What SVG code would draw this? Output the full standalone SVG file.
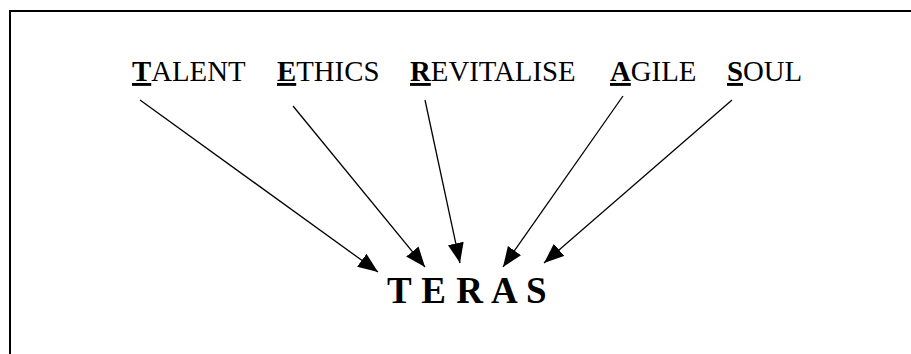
<svg xmlns="http://www.w3.org/2000/svg" width="911" height="354" viewBox="0 0 911 354">
  <style>
    .lbl { font-family: "Liberation Serif", "Times New Roman", serif; font-size: 28.8px; fill: #000; }
    .ini { font-weight: bold; text-decoration: underline; }
    .title { font-family: "Liberation Serif", "Times New Roman", serif; font-size: 37px; font-weight: bold; fill: #000; letter-spacing: 0.5px; }
    .conn { stroke: #000; stroke-width: 1.3; fill: none; marker-end: url(#arrow); }
  </style>
  <defs>
    <marker id="arrow" markerUnits="userSpaceOnUse" markerWidth="21" markerHeight="17" refX="20" refY="8" orient="auto">
      <path d="M0,0 L20,8 L0,16 z" fill="#000"/>
    </marker>
  </defs>
  <rect x="0" y="0" width="911" height="354" fill="#fff"/>
  <rect x="10" y="11" width="960" height="400" fill="none" stroke="#000" stroke-width="2"/>

  <g id="talent"><text class="lbl" x="132" y="81"><tspan class="ini">T</tspan>ALENT</text></g>
  <g id="ethics"><text class="lbl" x="277" y="81"><tspan class="ini">E</tspan>THICS</text></g>
  <g id="revitalise"><text class="lbl" x="410" y="81"><tspan class="ini">R</tspan>EVITALISE</text></g>
  <g id="agile"><text class="lbl" x="610" y="81"><tspan class="ini">A</tspan>GILE</text></g>
  <g id="soul"><text class="lbl" x="727" y="81"><tspan class="ini">S</tspan>OUL</text></g>
  <g id="teras"><text class="title" x="387" y="303">T E R A S</text></g>

  <g id="connectors">
    <line class="conn" x1="140" y1="100" x2="378" y2="272"/>
    <line class="conn" x1="293" y1="106" x2="425" y2="267"/>
    <line class="conn" x1="425" y1="100" x2="460" y2="263"/>
    <line class="conn" x1="623" y1="96" x2="503" y2="267"/>
    <line class="conn" x1="732" y1="100" x2="544" y2="263"/>
  </g>
</svg>
